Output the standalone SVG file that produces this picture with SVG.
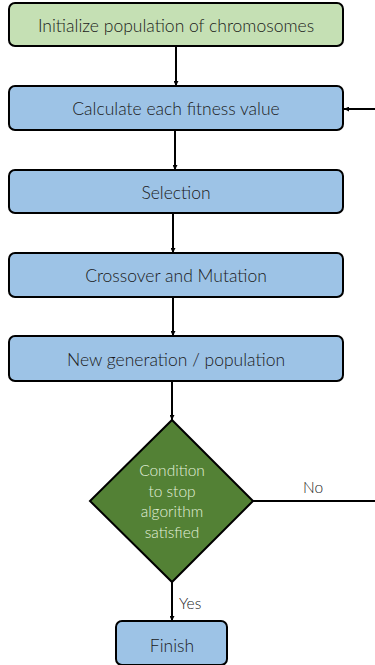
<svg xmlns="http://www.w3.org/2000/svg" width="375" height="665" viewBox="0 0 375 665">
<defs>
<marker id="ah" viewBox="0 0 8 8" refX="8" refY="4" markerWidth="5" markerHeight="5" orient="auto" markerUnits="userSpaceOnUse"><path d="M0,0 L8,4 L0,8 z" fill="#000"/></marker>
<style>
.box{stroke:#000;stroke-width:2}
.blue{fill:#9dc3e6}
.green{fill:#c5e0b4}
.t{font-family:Lato,"Liberation Sans",sans-serif;font-weight:300;font-size:17.5px;fill:#1a1a1a;text-anchor:middle;dominant-baseline:central}
.dt{font-family:Lato,"Liberation Sans",sans-serif;font-weight:300;font-size:15.5px;fill:#e2f0d9;text-anchor:middle}
.lbl{font-family:Lato,"Liberation Sans",sans-serif;font-weight:300;font-size:15.5px;fill:#1a1a1a}
.c{stroke:#000;stroke-width:2;fill:none}
</style>
</defs>
<rect width="375" height="665" fill="#fff"/>
<g id="connectors">
<line class="c" x1="176" y1="47" x2="176" y2="86" marker-end="url(#ah)"/>
<line class="c" x1="175" y1="131" x2="175" y2="170" marker-end="url(#ah)"/>
<line class="c" x1="173" y1="214" x2="173" y2="253" marker-end="url(#ah)"/>
<line class="c" x1="173" y1="298" x2="173" y2="336" marker-end="url(#ah)"/>
<line class="c" x1="172" y1="382" x2="172" y2="420" marker-end="url(#ah)"/>
<line class="c" x1="172" y1="582" x2="172" y2="621" marker-end="url(#ah)"/>
<line class="c" x1="253" y1="501" x2="376" y2="501"/>
<line class="c" x1="376" y1="109" x2="344" y2="109" marker-end="url(#ah)"/>
<text class="lbl" x="303" y="493">No</text>
<text class="lbl" x="179" y="609">Yes</text>
</g>
<g id="init"><rect class="box green" x="9" y="3" width="334" height="43" rx="6"/><text class="t" x="176" y="25">Initialize population of chromosomes</text></g>
<g id="fitness"><rect class="box blue" x="9" y="86" width="334" height="44" rx="6"/><text class="t" x="176" y="108">Calculate each fitness value</text></g>
<g id="selection"><rect class="box blue" x="9" y="170" width="334" height="43" rx="6"/><text class="t" x="176" y="192">Selection</text></g>
<g id="crossover"><rect class="box blue" x="9" y="253" width="334" height="44" rx="6"/><text class="t" x="176" y="275">Crossover and Mutation</text></g>
<g id="newgen"><rect class="box blue" x="9" y="336" width="334" height="45" rx="6"/><text class="t" x="176" y="359">New generation / population</text></g>
<g id="condition"><polygon points="172,420 253,501 172,582 90,501" fill="#538135" stroke="#000" stroke-width="2"/>
<text class="dt" x="172" y="476">Condition</text><text class="dt" x="172" y="497">to stop</text><text class="dt" x="172" y="517">algorithm</text><text class="dt" x="172" y="538">satisfied</text></g>
<g id="finish"><rect class="box blue" x="116" y="621" width="111" height="44" rx="6"/><text class="t" x="172" y="645">Finish</text></g>
</svg>
